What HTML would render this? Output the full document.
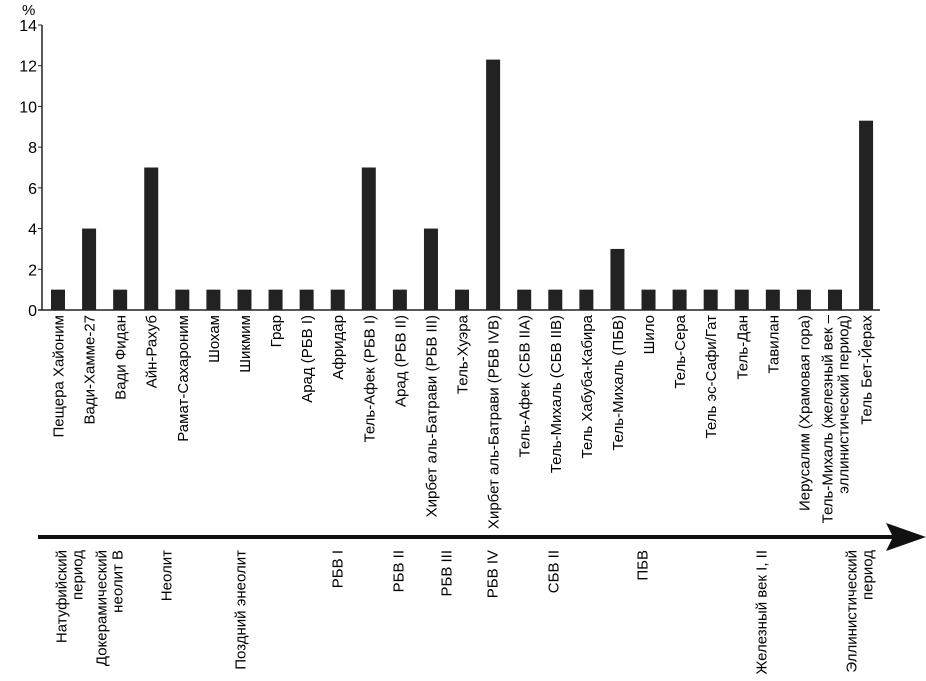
<!DOCTYPE html>
<html><head><meta charset="utf-8"><style>
html,body{margin:0;padding:0;background:#fff}
svg{display:block;font-family:"Liberation Sans",Arial,sans-serif}
</style></head><body>
<svg id="chart" width="926" height="681" viewBox="0 0 926 681">
<g id="axes"></g><g id="bars"></g><g id="labels"></g><g id="periods"></g>
</svg>
<script>
const categories=["Пещера Хайоним","Вади-Хамме-27","Вади Фидан","Айн-Рахуб","Рамат-Сахароним","Шохам","Шикмим","Грар","Арад (РБВ I)","Афридар","Тель-Афек (РБВ I)","Арад (РБВ II)","Хирбет аль-Батрави (РБВ III)","Тель-Хуэра","Хирбет аль-Батрави (РБВ IVB)","Тель-Афек (СБВ IIA)","Тель-Михаль (СБВ IIB)","Тель Хабуба-Кабира","Тель-Михаль (ПБВ)","Шило","Тель-Сера","Тель эс-Сафи/Гат","Тель-Дан","Тавилан","Иерусалим (Храмовая гора)","Тель-Михаль (железный век –|эллинистический период)","Тель Бет-Йерах"];
const values=[1,4,1,7,1,1,1,1,1,1,7,1,4,1,12.3,1,1,1,3,1,1,1,1,1,1,1,9.3];
const yTicks=[0,2,4,6,8,10,12,14];
const periods=["Натуфийский|период","Докерамический|неолит B","Неолит","Поздний энеолит","РБВ I","РБВ II","РБВ III","РБВ IV","СБВ II","ПБВ","Железный век I, II","Эллинистический|период"];
const periodPos=[69,109,166,240,337,398,446,492,553,642,761,859];
const NS="http://www.w3.org/2000/svg";
const X0=42,Y0=310,YMAX=14,YTOP=25;
const y=v=>Y0-(Y0-YTOP)*v/YMAX;
const x=i=>58+i*31.08;
function el(t,a,p){const e=document.createElementNS(NS,t);for(const k in a)e.setAttribute(k,a[k]);p.appendChild(e);return e;}
const ax=document.getElementById('axes');
const yl=el('line',{x1:X0,y1:Y0,x2:X0,y2:YTOP,stroke:'#222','stroke-width':1.5},ax);


const xl=el('line',{x1:X0-4,y1:Y0,x2:880,y2:Y0,stroke:'#222','stroke-width':1.5},ax);


const pct=el('text',{x:22,y:15,'font-size':15},ax);pct.textContent='%';


yTicks.forEach(t=>{
 el('line',{x1:X0-4,y1:y(t),x2:X0,y2:y(t),stroke:'#222','stroke-width':1},ax);
 const tx=el('text',{x:X0-5,y:y(t)+6,'font-size':16,'text-anchor':'end'},ax);tx.textContent=t;
 
 
});
const bg=document.getElementById('bars'),lg=document.getElementById('labels');
values.forEach((v,i)=>{
 const r=el('rect',{x:x(i)-7,y:y(v),width:14,height:Y0-y(v),fill:'#222'},bg);
 
 
 const lines=categories[i].split('|');
 lines.forEach((ln,j)=>{
  const off=(j-(lines.length-1)/2)*16;
  const t=el('text',{transform:`translate(${x(i)+5.5+off},315) rotate(-90)`,'font-size':15,'text-anchor':'end'},lg);
  t.textContent=ln;
  
  
 });
});
const pg=document.getElementById('periods');
const ar=el('line',{x1:38,y1:537,x2:895,y2:537,stroke:'#111','stroke-width':4},pg);


const ah=el('polygon',{points:'886,523 926,537 886,551 893,537',fill:'#111'},pg);


periods.forEach((p,i)=>{
 const lines=p.split('|');
 lines.forEach((ln,j)=>{
  const off=(j-(lines.length-1)/2)*16;
  const t=el('text',{transform:`translate(${periodPos[i]+5.5+off},550) rotate(-90)`,'font-size':15,'text-anchor':'end'},pg);
  t.textContent=ln;
  
  
 });
});
</script>
</body></html>
